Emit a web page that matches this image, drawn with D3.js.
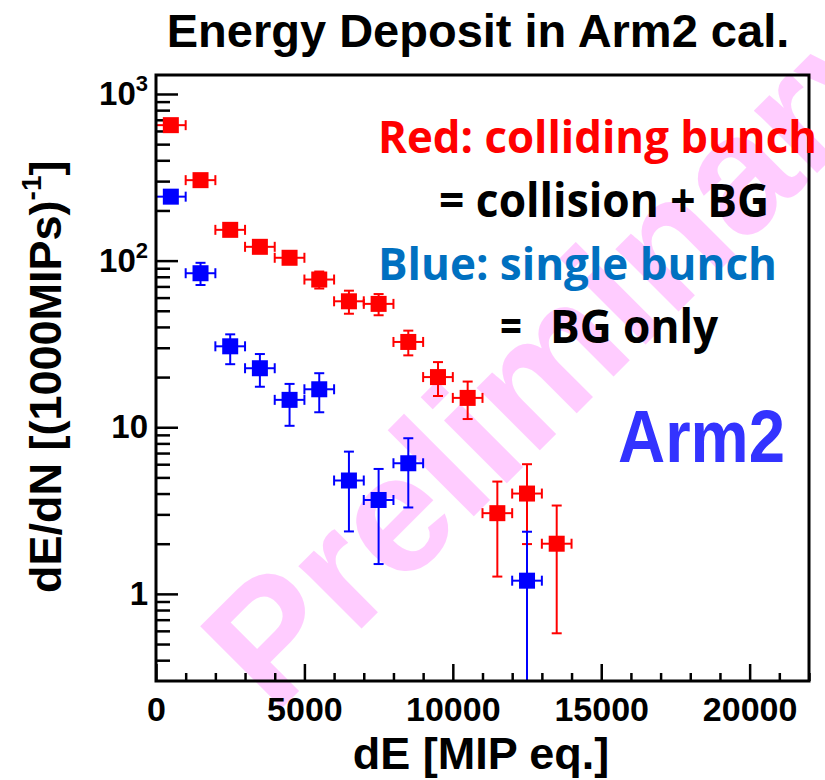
<!DOCTYPE html>
<html>
<head>
<meta charset="utf-8">
<script src="https://cdn.jsdelivr.net/npm/d3@7"></script>
<style>
  body { margin: 0; background: #fff; }
  svg text { font-family: "Liberation Sans", Arial, sans-serif; font-weight: bold; }
  .note { font-family: "Open Sans", "Liberation Sans", sans-serif; }
</style>
</head>
<body>
<svg id="chart" width="825" height="780"></svg>
<script>
// colliding bunch (red)
const redE   = [500, 1500, 2500, 3500, 4500, 5500, 6500, 7500, 8500, 9500, 10500, 11500, 12500, 13500];
const redVal = [650, 304, 153, 121, 104, 77, 57, 55, 32.5, 20, 15, 3.05, 4.0, 2.0];
const redLo  = [630, 292, 146, 115, 98, 68, 48, 47, 27, 15.4, 11.2, 1.27, 1.99, 0.58];
const redHi  = [670, 316, 160, 127, 110, 86, 66, 63, 38, 24.6, 18.8, 4.72, 6.0, 3.39];

// single bunch (blue)
const blueE   = [500, 1500, 2500, 3500, 4500, 5500, 6500, 7500, 8500, 12500];
const blueVal = [242, 84, 30.6, 22.6, 14.6, 16.9, 4.79, 3.66, 6.08, 1.2];
const blueLo  = [228, 71.4, 23.9, 17.5, 10.2, 12.3, 2.37, 1.51, 3.3, 0.01];
const blueHi  = [256, 97, 36.1, 27.5, 18.2, 21.1, 7.14, 5.62, 8.59, 2.36];

const binHalf = 500;
const xTicks = [0, 5000, 10000, 15000, 20000];
const xMinor = d3.range(0, 22001, 1000).filter(v => v % 5000 !== 0);
const yTicks = [1, 10, 100, 1000];
const yMinor = [0.4, 0.5, 0.6, 0.7, 0.8, 0.9]
  .concat([1, 10, 100].flatMap(d => [2, 3, 4, 5, 6, 7, 8, 9].map(k => k * d)));

const svg = d3.select('#chart');
const pLeft = 156, pRight = 809, pTop = 75, pBottom = 681;

const x = d3.scaleLinear().domain([0, 22000]).range([pLeft, pRight]);
const y = d3.scaleLog().domain([0.3, 1300]).range([pBottom, pTop]).clamp(true);

// watermark
svg.append('text')
  .attr('transform', 'translate(274,716) rotate(-45)')
  .attr('font-size', 168)
  .attr('fill', '#ffccff')
  .text('Preliminary');

// axes
const xAxis = svg.append('g')
  .attr('transform', `translate(0,${pBottom})`)
  .call(d3.axisBottom(x).tickValues(xTicks).tickSizeInner(-17).tickSizeOuter(0)
    .tickPadding(16).tickFormat(d3.format('d')));
xAxis.selectAll('text').attr('font-size', 34).attr('fill', '#000');

svg.append('g')
  .attr('transform', `translate(0,${pBottom})`)
  .call(d3.axisBottom(x).tickValues(xMinor).tickSizeInner(-8).tickSizeOuter(0).tickFormat(''));

const yAxis = svg.append('g')
  .attr('transform', `translate(${pLeft},0)`)
  .call(d3.axisLeft(y).tickValues(yTicks).tickSizeInner(-22).tickSizeOuter(0).tickPadding(8));

yAxis.selectAll('text')
  .attr('font-size', 33)
  .attr('fill', '#000')
  .each(function (d) {
    const t = d3.select(this).text('');
    const p = Math.round(Math.log10(d));
    if (p < 2) {
      t.text(d);
    } else {
      t.append('tspan').text('10');
      t.append('tspan').attr('font-size', 22).attr('dy', -14).text(p);
    }
  });

svg.append('g')
  .attr('transform', `translate(${pLeft},0)`)
  .call(d3.axisLeft(y).tickValues(yMinor).tickSizeInner(-14).tickSizeOuter(0).tickFormat(''));

svg.selectAll('.domain').remove();
svg.selectAll('.tick line').attr('stroke', '#000').attr('stroke-width', 2.5);

// data points with error bars
function drawSeries(xs, vals, lo, hi, color) {
  const pts = xs.map((e, i) => ({ e, v: vals[i], lo: lo[i], hi: hi[i] }));
  const g = svg.append('g').selectAll('g').data(pts).enter().append('g');
  const cap = 5;

  g.append('line')
    .attr('x1', d => x(d.e - binHalf)).attr('x2', d => x(d.e + binHalf))
    .attr('y1', d => y(d.v)).attr('y2', d => y(d.v));
  g.append('line')
    .attr('x1', d => x(d.e)).attr('x2', d => x(d.e))
    .attr('y1', d => y(d.lo)).attr('y2', d => y(d.hi));
  g.append('line')
    .attr('x1', d => x(d.e - binHalf)).attr('x2', d => x(d.e - binHalf))
    .attr('y1', d => y(d.v) - cap).attr('y2', d => y(d.v) + cap);
  g.append('line')
    .attr('x1', d => x(d.e + binHalf)).attr('x2', d => x(d.e + binHalf))
    .attr('y1', d => y(d.v) - cap).attr('y2', d => y(d.v) + cap);
  g.append('line')
    .attr('x1', d => x(d.e) - cap).attr('x2', d => x(d.e) + cap)
    .attr('y1', d => y(d.lo)).attr('y2', d => y(d.lo));
  g.append('line')
    .attr('x1', d => x(d.e) - cap).attr('x2', d => x(d.e) + cap)
    .attr('y1', d => y(d.hi)).attr('y2', d => y(d.hi));
  g.selectAll('line').attr('stroke', color).attr('stroke-width', 2);

  g.append('rect')
    .attr('x', d => x(d.e) - 8).attr('y', d => y(d.v) - 8)
    .attr('width', 16).attr('height', 16)
    .attr('fill', color);
}

drawSeries(redE, redVal, redLo, redHi, '#ff0000');
drawSeries(blueE, blueVal, blueLo, blueHi, '#0000ff');

// frame
svg.append('rect')
  .attr('x', pLeft).attr('y', pTop)
  .attr('width', pRight - pLeft).attr('height', pBottom - pTop)
  .attr('fill', 'none').attr('stroke', '#000').attr('stroke-width', 3);

// titles
svg.append('text')
  .attr('x', 478).attr('y', 47)
  .attr('text-anchor', 'middle')
  .attr('font-size', 47)
  .text('Energy Deposit in Arm2 cal.');

svg.append('text')
  .attr('x', 481).attr('y', 769)
  .attr('text-anchor', 'middle')
  .attr('font-size', 45)
  .text('dE [MIP eq.]');

const yLabel = svg.append('text')
  .attr('transform', 'translate(61,593) rotate(-90)')
  .attr('font-size', 45);
yLabel.append('tspan').text('dE/dN [(1000MIPs)');
yLabel.append('tspan').attr('font-size', 28).attr('dy', -20).text('-1');
yLabel.append('tspan').attr('dy', 20).text(']');

// notes
function note(str, x0, yb, size, len, color) {
  svg.append('text')
    .attr('class', 'note')
    .attr('x', x0).attr('y', yb)
    .attr('font-size', size)
    .attr('textLength', len)
    .attr('lengthAdjust', 'spacingAndGlyphs')
    .attr('fill', color)
    .text(str);
}
note('Red: colliding bunch', 378, 153, 45, 439, '#ff0000');
note('= collision + BG', 439, 217, 47, 330, '#000');
note('Blue: single bunch', 378, 280, 45, 399, '#0070c0');
note('=', 500, 343, 46, 22, '#000');
note('BG only', 550, 343, 46, 168, '#000');

svg.append('text')
  .attr('x', 618).attr('y', 462)
  .attr('font-size', 75)
  .attr('textLength', 167)
  .attr('lengthAdjust', 'spacingAndGlyphs')
  .attr('fill', '#3333ff')
  .text('Arm2');
</script>
</body>
</html>
